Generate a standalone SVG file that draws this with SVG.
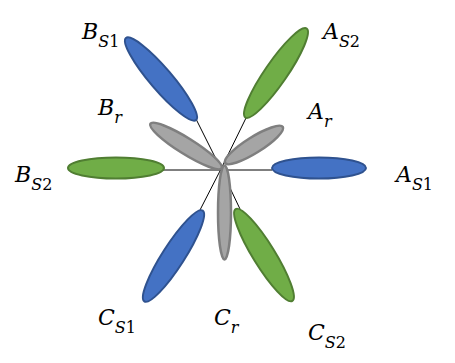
<svg xmlns="http://www.w3.org/2000/svg" width="455" height="363" viewBox="0 0 455 363">
<style>
.blue{fill:#4472C4;stroke:#2F528F;stroke-width:2}
.green{fill:#70AD47;stroke:#507E32;stroke-width:2}
.gray{fill:#A5A5A5;stroke:#7F7F7F;stroke-width:2.5}
.ln{stroke:#000;stroke-width:1;fill:none}
.lab{font-family:"DejaVu Serif","Liberation Serif",serif;font-style:italic;font-size:22px;fill:#000}
.sub{font-size:16px}
.up{font-style:normal}
</style>
<rect width="455" height="363" fill="#fff"/>
<g id="connectors">
<line class="ln" x1="221" y1="169" x2="196" y2="119"/>
<line class="ln" x1="221" y1="169" x2="246" y2="118"/>
<line class="ln" x1="221" y1="170" x2="163" y2="170"/>
<line class="ln" x1="221" y1="170" x2="272" y2="170"/>
<line class="ln" x1="221" y1="169" x2="200" y2="210"/>
<line class="ln" x1="221" y1="169" x2="240" y2="209"/>
</g>
<g id="BS1"><ellipse class="blue" cx="161" cy="79" rx="54" ry="11" transform="rotate(49.5 161 79)"/></g>
<g id="AS2"><ellipse class="green" cx="276" cy="73" rx="54" ry="11" transform="rotate(-55.4 276 73)"/></g>
<g id="BS2"><ellipse class="green" cx="116" cy="168" rx="48" ry="10.5"/></g>
<g id="AS1"><ellipse class="blue" cx="319" cy="168" rx="47" ry="10.5"/></g>
<g id="CS1"><ellipse class="blue" cx="173.5" cy="256" rx="54" ry="11" transform="rotate(-57.3 173.5 256)"/></g>
<g id="CS2"><ellipse class="green" cx="264" cy="255" rx="54" ry="11" transform="rotate(58.3 264 255)"/></g>
<g id="Br"><ellipse class="gray" cx="186" cy="146" rx="42" ry="8" transform="rotate(32 186 146)"/></g>
<g id="Ar"><ellipse class="gray" cx="254" cy="145" rx="34" ry="8" transform="rotate(-32 254 145)"/></g>
<g id="Cr"><ellipse class="gray" cx="224.5" cy="212.5" rx="6.5" ry="47"/></g>
<g id="labels">
<text class="lab" x="82" y="39">B<tspan class="sub" dy="8">S<tspan class="up">1</tspan></tspan></text>
<text class="lab" x="323" y="39">A<tspan class="sub" dy="8">S<tspan class="up">2</tspan></tspan></text>
<text class="lab" x="98" y="115">B<tspan class="sub" dy="8">r</tspan></text>
<text class="lab" x="308" y="119">A<tspan class="sub" dy="8">r</tspan></text>
<text class="lab" x="15" y="182">B<tspan class="sub" dy="8">S<tspan class="up">2</tspan></tspan></text>
<text class="lab" x="396" y="182">A<tspan class="sub" dy="8">S<tspan class="up">1</tspan></tspan></text>
<text class="lab" x="98" y="325">C<tspan class="sub" dy="8">S<tspan class="up">1</tspan></tspan></text>
<text class="lab" x="214" y="325">C<tspan class="sub" dy="8">r</tspan></text>
<text class="lab" x="308" y="340">C<tspan class="sub" dy="8">S<tspan class="up">2</tspan></tspan></text>
</g>
</svg>
